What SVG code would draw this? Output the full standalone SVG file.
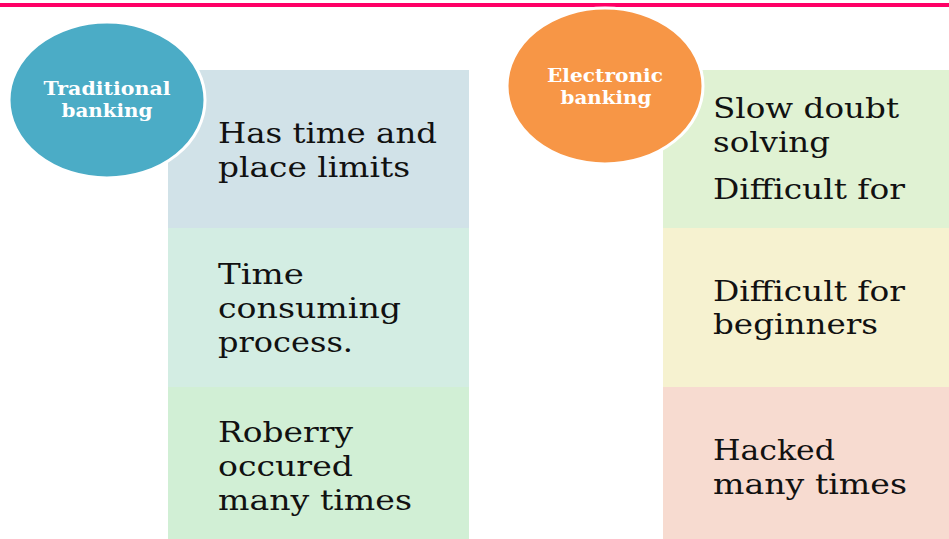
<svg xmlns="http://www.w3.org/2000/svg" width="949" height="539" viewBox="0 0 949 539">
<style>
.item{font-family:"DejaVu Serif","Liberation Serif",serif;font-size:27px;fill:#111}
.head{font-family:"DejaVu Serif","Liberation Serif",serif;font-size:18px;font-weight:bold;fill:#fff;text-anchor:middle}
.circ{stroke:#fff;stroke-width:3}
</style>
<rect x="0" y="0" width="949" height="539" fill="#fff"/>
<rect x="0" y="3" width="949" height="4" fill="#FF0066"/>
<g id="trad-col">
<g id="trad-1">
<rect x="168" y="70" width="301" height="158" fill="#D1E2E8"/>
<text class="item"><tspan x="218" y="143" textLength="219" lengthAdjust="spacingAndGlyphs">Has time and</tspan><tspan x="218" y="177" textLength="192" lengthAdjust="spacingAndGlyphs">place limits</tspan></text>
</g>
<g id="trad-2">
<rect x="168" y="228" width="301" height="159" fill="#D3EDE3"/>
<text class="item"><tspan x="218" y="284" textLength="86" lengthAdjust="spacingAndGlyphs">Time</tspan><tspan x="218" y="318" textLength="183" lengthAdjust="spacingAndGlyphs">consuming</tspan><tspan x="218" y="352" textLength="135" lengthAdjust="spacingAndGlyphs">process.</tspan></text>
</g>
<g id="trad-3">
<rect x="168" y="387" width="301" height="152" fill="#D1EFD5"/>
<text class="item"><tspan x="218" y="442" textLength="135" lengthAdjust="spacingAndGlyphs">Roberry</tspan><tspan x="218" y="476" textLength="135" lengthAdjust="spacingAndGlyphs">occured</tspan><tspan x="218" y="510" textLength="194" lengthAdjust="spacingAndGlyphs">many times</tspan></text>
</g>
</g>
<g id="trad-head">
<ellipse class="circ" cx="107" cy="100" rx="98" ry="78" fill="#4BACC6"/>
<text class="head"><tspan x="107" y="95" textLength="127" lengthAdjust="spacingAndGlyphs">Traditional</tspan><tspan x="107" y="117" textLength="91" lengthAdjust="spacingAndGlyphs">banking</tspan></text>
</g>
<g id="elec-col">
<g id="elec-1">
<rect x="663" y="70" width="286" height="158" fill="#E0F2D3"/>
<text class="item"><tspan x="713" y="118" textLength="186" lengthAdjust="spacingAndGlyphs">Slow doubt</tspan><tspan x="713" y="152" textLength="117" lengthAdjust="spacingAndGlyphs">solving</tspan><tspan x="713" y="199" textLength="192" lengthAdjust="spacingAndGlyphs">Difficult for</tspan></text>
</g>
<g id="elec-2">
<rect x="663" y="228" width="286" height="159" fill="#F6F2D0"/>
<text class="item"><tspan x="713" y="301" textLength="192" lengthAdjust="spacingAndGlyphs">Difficult for</tspan><tspan x="713" y="334" textLength="165" lengthAdjust="spacingAndGlyphs">beginners</tspan></text>
</g>
<g id="elec-3">
<rect x="663" y="387" width="286" height="152" fill="#F7DBD0"/>
<text class="item"><tspan x="713" y="460" textLength="122" lengthAdjust="spacingAndGlyphs">Hacked</tspan><tspan x="713" y="494" textLength="194" lengthAdjust="spacingAndGlyphs">many times</tspan></text>
</g>
</g>
<g id="elec-head">
<ellipse class="circ" cx="605" cy="86" rx="98" ry="78" fill="#F79646"/>
<text class="head"><tspan x="605" y="82" textLength="116" lengthAdjust="spacingAndGlyphs">Electronic</tspan><tspan x="606" y="104" textLength="91" lengthAdjust="spacingAndGlyphs">banking</tspan></text>
</g>
<g id="connectors"></g>
</svg>
